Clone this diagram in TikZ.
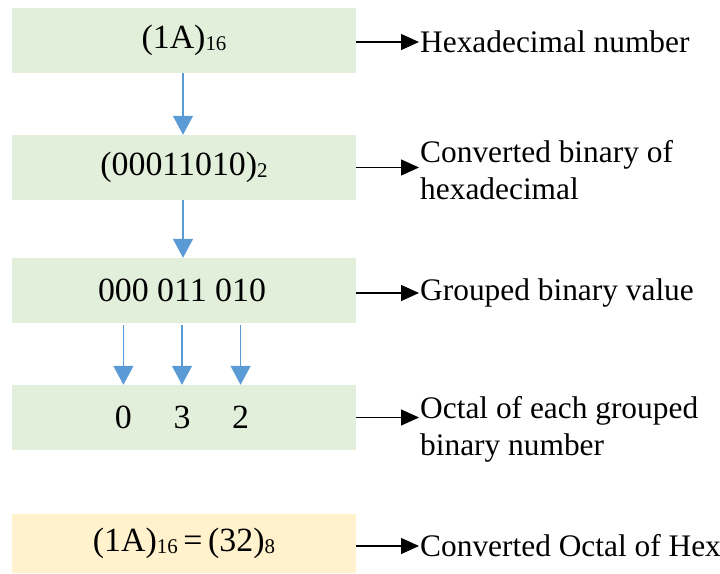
\documentclass[tikz,border=0pt]{standalone}
\usepackage{fontspec}
\setmainfont{Liberation Serif}
\usetikzlibrary{arrows.meta}
\definecolor{boxgreen}{HTML}{E2EFDA}
\definecolor{boxyellow}{HTML}{FFF2CC}
\definecolor{arrowblue}{HTML}{5B9BD5}
\newcommand\mysub[1]{\raisebox{-1.5bp}{\fontsize{21}{21}\selectfont #1}}
\begin{document}
\begin{tikzpicture}[x=1bp,y=-1bp,
  gbox/.style={rectangle, fill=boxgreen, draw=none, minimum width=344bp, minimum height=65bp, inner sep=0pt, font=\fontsize{34}{40}\selectfont},
  ybox/.style={gbox, fill=boxyellow, minimum height=59bp},
  txt/.style={inner sep=0pt, font=\fontsize{34}{40}\selectfont},
  lab/.style={anchor=west, align=left, inner sep=1bp, font=\fontsize{31.5}{37}\selectfont},
  barrow/.style={draw=arrowblue, line width=1.5bp, -{Triangle[length=19bp,width=20bp,fill=arrowblue]}},
  karrow/.style={draw=black, line width=1.3bp, -{Triangle[length=18bp,width=16bp,fill=black]}}
]
\useasboundingbox (0,0) rectangle (720,574);
\node[gbox] (b1) at (184,40.5) {(1A)\mysub{16}};
\node[gbox] (b2) at (184,167.5) {(00011010)\mysub{2}};
\node[gbox] (b3) at (184,290.5) {};
\node[gbox] (b4) at (184,417.5) {};
\node[ybox] (b5) at (184,543.5) {(1A)\mysub{16}\,=\,(32)\mysub{8}};
% grouped binary
\node[txt] (g2) at (182,290.5) {011};
\node[txt, anchor=east] (g1) at ([xshift=-8bp]g2.west) {000};
\node[txt, anchor=west] (g3) at ([xshift=8bp]g2.east) {010};
% octal digits
\node[txt] (d1) at (g1 |- b4) {0};
\node[txt] (d2) at (g2 |- b4) {3};
\node[txt] (d3) at (g3 |- b4) {2};
% blue arrows
\draw[barrow] (b1.south -| 183,0) -- (b2.north -| 183,0);
\draw[barrow] (b2.south -| 183,0) -- (b3.north -| 183,0);
\draw[barrow] ([yshift=-2bp]g1 |- b3.south) -- (g1 |- b4.north);
\draw[barrow] ([yshift=-2bp]g2 |- b3.south) -- (g2 |- b4.north);
\draw[barrow] ([yshift=-2bp]g3 |- b3.south) -- (g3 |- b4.north);
% labels
\node[lab] (l1) at (419,42) {Hexadecimal number};
\node[lab] (l2) at (419,170) {Converted binary of\\hexadecimal};
\node[lab] (l3) at (419,293) {Grouped binary value};
\node[lab] (l4) at (419,429) {Octal of each grouped\\binary number};
\node[lab] (l5) at (419,546) {Converted Octal of Hex};
% black arrows
\draw[karrow] ([yshift=-1.5bp]b1.east) -- ([yshift=-1.5bp]b1.east -| l1.west);
\draw[karrow] (b2.east) -- (b2.east -| l2.west);
\draw[karrow] ([yshift=-2.5bp]b3.east) -- ([yshift=-2.5bp]b3.east -| l3.west);
\draw[karrow] (b4.east) -- (b4.east -| l4.west);
\draw[karrow] ([yshift=-2.5bp]b5.east) -- ([yshift=-2.5bp]b5.east -| l5.west);
\end{tikzpicture}
\end{document}
